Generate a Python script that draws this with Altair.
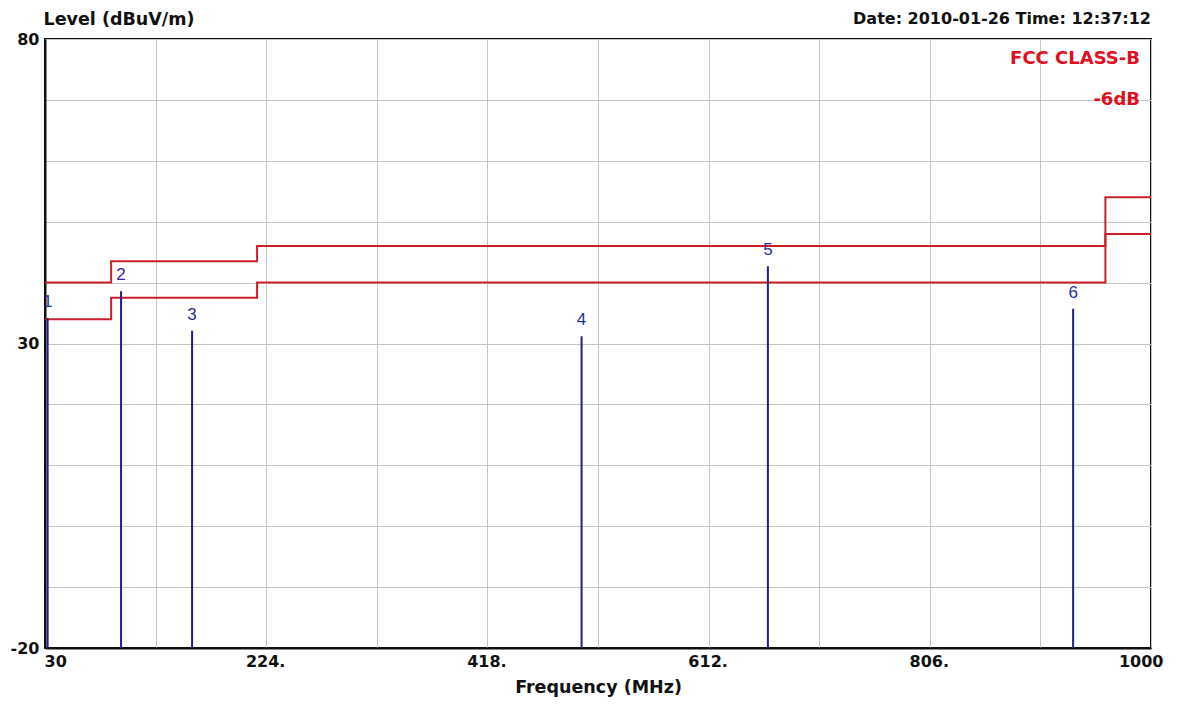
import altair as alt
import pandas as pd

# ---- data ----
limit_freq = [30, 88, 216, 960, 1000]
limit_class_b = [40.0, 43.5, 46.0, 54.0, 54.0]
limit_minus6 = [34.0, 37.5, 40.0, 48.0, 48.0]

peak_no = ["1", "2", "3", "4", "5", "6"]
peak_freq = [32.3, 96.7, 159.0, 500.6, 664.0, 931.7]
peak_level = [34.2, 38.6, 32.1, 31.2, 42.7, 35.7]

x_ticks = [30, 127, 224, 321, 418, 515, 612, 709, 806, 903, 1000]
y_ticks = [-20, -10, 0, 10, 20, 30, 40, 50, 60, 70, 80]

W, H = 1106, 609
FONT = "DejaVu Sans"
RED = "#cc1f2b"
BLUE = "#1e1e8c"

limits = pd.DataFrame({
    "freq": limit_freq * 2,
    "level": limit_class_b + limit_minus6,
    "limit": ["FCC CLASS-B"] * 5 + ["-6dB"] * 5,
})
peaks = pd.DataFrame({"no": peak_no, "freq": peak_freq, "level": peak_level,
                      "base": [-20] * len(peak_no)})

xscale = alt.Scale(domain=[30, 1000], nice=False, zero=False)
yscale = alt.Scale(domain=[-20, 80], nice=False, zero=False)

x_label_expr = ("datum.value == 30 ? '30' : datum.value == 1000 ? '1000' : "
                "indexof([224, 418, 612, 806], datum.value) >= 0 ? datum.value + '.' : ''")
y_label_expr = "indexof([80, 30, -20], datum.value) >= 0 ? datum.value + '' : ''"

xaxis = alt.Axis(values=x_ticks, labelExpr=x_label_expr, title="Frequency (MHz)",
                 grid=True, gridColor="#c4c4c4", gridWidth=1, ticks=False,
                 domainColor="#111111", domainWidth=2,
                 labelFont=FONT, labelFontSize=16, labelFontWeight="bold", labelColor="#111111",
                 labelFlush=True, labelPadding=5, labelOverlap=False,
                 labelOffset=alt.condition("datum.value == 1000", alt.value(12), alt.value(-1)),
                 titleFont=FONT, titleFontSize=17.5, titleFontWeight="bold", titleColor="#111111",
                 titlePadding=9)
yaxis = alt.Axis(values=y_ticks, labelExpr=y_label_expr, title="Level (dBuV/m)",
                 grid=True, gridColor="#c4c4c4", gridWidth=1, ticks=False,
                 domainColor="#111111", domainWidth=2,
                 labelFont=FONT, labelFontSize=16, labelFontWeight="bold", labelColor="#111111",
                 labelPadding=6, labelOverlap=False, labelFlush=False,
                 titleFont=FONT, titleFontSize=17.5, titleFontWeight="bold", titleColor="#111111",
                 titleAngle=0, titleAlign="left", titleBaseline="alphabetic",
                 titleX=-2, titleY=-15)

lines = alt.Chart(limits).mark_line(interpolate="step-after", strokeWidth=2, color=RED).encode(
    x=alt.X("freq:Q", scale=xscale, axis=xaxis),
    y=alt.Y("level:Q", scale=yscale, axis=yaxis),
    detail="limit:N",
)

rules = alt.Chart(peaks).mark_rule(color=BLUE, strokeWidth=2).encode(
    x=alt.X("freq:Q", scale=xscale),
    y=alt.Y("level:Q", scale=yscale),
    y2="base:Q",
)

labels = alt.Chart(peaks).mark_text(color="#2c2ca0", font="Liberation Sans", fontSize=17,
                                    dy=-16, clip=True).encode(
    x=alt.X("freq:Q", scale=xscale),
    y=alt.Y("level:Q", scale=yscale),
    text="no:N",
)

legend_a = alt.Chart(pd.DataFrame({"t": ["FCC CLASS-B"]})).mark_text(
    color="#e0101e", font=FONT, fontSize=18, fontWeight="bold", align="right",
    baseline="middle").encode(text="t:N", x=alt.value(W - 11), y=alt.value(20))
legend_b = alt.Chart(pd.DataFrame({"t": ["-6dB"]})).mark_text(
    color="#e0101e", font=FONT, fontSize=18, fontWeight="bold", align="right",
    baseline="middle").encode(text="t:N", x=alt.value(W - 11), y=alt.value(61))

date_text = alt.Chart(pd.DataFrame({"t": ["Date: 2010-01-26  Time: 12:37:12"]})).mark_text(
    color="#111111", font=FONT, fontSize=16, fontWeight="bold", align="right",
    baseline="alphabetic").encode(
    text="t:N", x=alt.value(W), y=alt.value(-15)
)

chart = alt.layer(lines, rules, labels, legend_a, legend_b, date_text).properties(
    width=W, height=H,
    padding={"left": 2, "top": 2, "right": 5, "bottom": 2},
    background="white",
).configure_view(stroke="#111111", strokeWidth=2)

chart.save("out.html", embed_options={"renderer": "svg", "actions": False})
